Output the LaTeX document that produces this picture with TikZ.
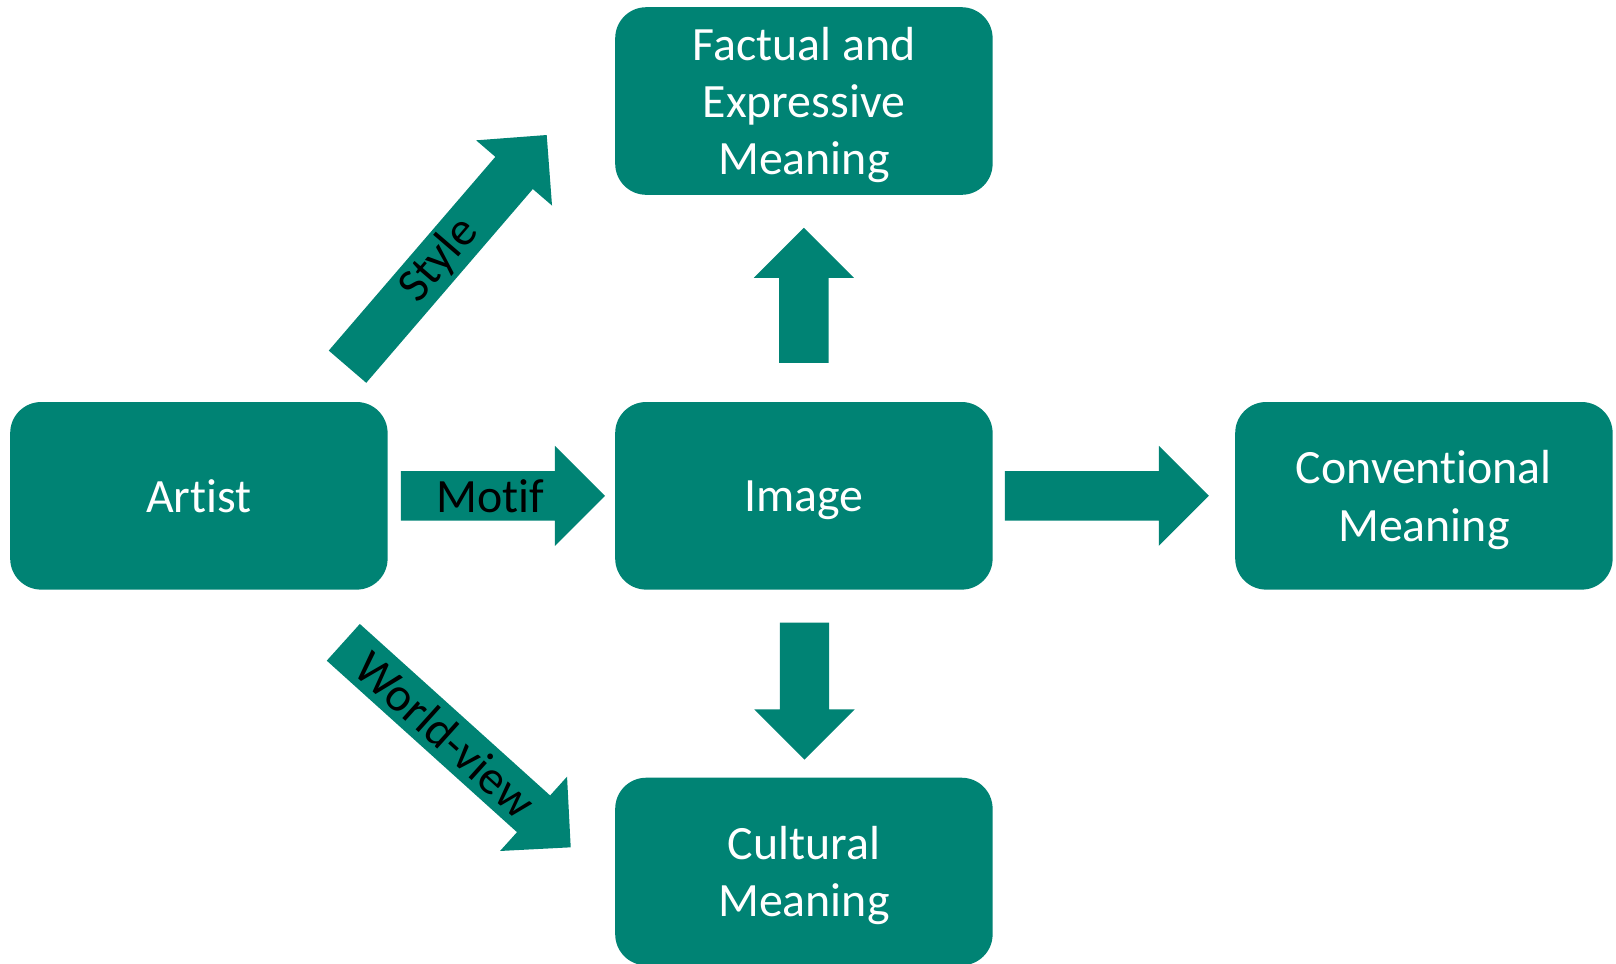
\documentclass[tikz,border=0pt]{standalone}
\usepackage{fontspec}
\setmainfont{Carlito}[Ligatures=NoCommon]
\usetikzlibrary{calc}

\definecolor{panelteal}{RGB}{0,131,116}

\tikzset{
  box/.style={fill=panelteal, rounded corners=0.31cm, minimum width=3.772cm,
    minimum height=1.875cm, align=center, text=white, inner sep=0pt,
    text depth=0pt, font=\fontsize{13.6}{16.3}\selectfont},
  lbl/.style={text=black, inner sep=0pt, font=\fontsize{13.6}{16.3}\selectfont},
}

% fat block arrow from #1 to #2 (tip at #2)
\newcommand{\blockarrow}[2]{%
  \coordinate (hb) at ($(#2)!0.5cm!(#1)$);
  \fill[panelteal] ($(#1)!0.247cm!90:(#2)$) -- ($(hb)!0.247cm!90:(#2)$)
    -- ($(hb)!0.5cm!90:(#2)$) -- (#2) -- ($(hb)!0.5cm!-90:(#2)$)
    -- ($(hb)!0.247cm!-90:(#2)$) -- ($(#1)!0.247cm!-90:(#2)$) -- cycle;
}

\begin{document}
\begin{tikzpicture}[x=0.01cm, y=-0.01cm]
  \useasboundingbox (0,0) rectangle (1616,963);

  % boxes
  \node[box] (artist) at (198.9,495.8) {Artist};
  \node[box] (image) at (803.9,495.8) {Image};
  \node[box] (conv) at (1423.9,495.8) {Conventional\\Meaning};
  \node[box] (fact) at (803.9,101) {Factual and\\Expressive\\Meaning};
  \node[box] (cult) at (803.9,871.5) {Cultural\\Meaning};

  % arrow ends
  \coordinate (motif-s) at (400.9,495.8);
  \coordinate (motif-e) at (605,495.8);
  \coordinate (conv-s) at (1004.8,495.8);
  \coordinate (conv-e) at (1208.9,495.8);
  \coordinate (fact-s) at (803.9,362.8);
  \coordinate (fact-e) at (803.9,227.8);
  \coordinate (cult-s) at (804.5,622.5);
  \coordinate (cult-e) at (804.5,759.5);
  \coordinate (style-s) at (347.5,366.7);
  \coordinate (style-e) at (546.7,135);
  \coordinate (world-s) at (343.3,642.3);
  \coordinate (world-e) at (570.7,847.3);

  \blockarrow{motif-s}{motif-e}
  \blockarrow{conv-s}{conv-e}
  \blockarrow{fact-s}{fact-e}
  \blockarrow{cult-s}{cult-e}
  \blockarrow{style-s}{style-e}
  \blockarrow{world-s}{world-e}

  % arrow labels
  \path (motif-s) -- (motif-e) node[lbl, pos=0.44] (motif) {Motif};
  \path (style-s) -- (style-e) node[lbl, sloped, pos=0.46] (style) {Style};
  \path (world-s) -- (world-e) node[lbl, sloped, pos=0.45] (world) {World-view};
\end{tikzpicture}
\end{document}
